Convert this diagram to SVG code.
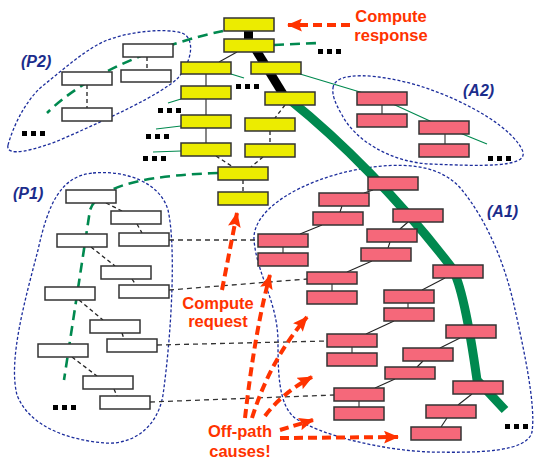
<svg xmlns="http://www.w3.org/2000/svg" width="535" height="461" viewBox="0 0 535 461">
<style>
.y{fill:#ecec00;stroke:#333;stroke-width:1.5}
.p{fill:#f5687a;stroke:#333;stroke-width:1.5}
.w{fill:#fff;stroke:#333;stroke-width:1.5}
.bd{fill:none;stroke:#1c2d9c;stroke-width:1.3;stroke-dasharray:3 2}
.s{stroke:#222;stroke-width:1.1;fill:none}
.d{stroke:#222;stroke-width:1.3;stroke-dasharray:4 3;fill:none}
.ld{stroke:#333;stroke-width:1.3;stroke-dasharray:5 4;fill:none}
.v{stroke:#666;stroke-width:1.5;fill:none}
.g{stroke:#00894f;stroke-width:1.2;fill:none}
.gd{stroke:#00894f;stroke-width:2.6;stroke-dasharray:10 6;fill:none}
.r{stroke:#ff3300;stroke-width:4;stroke-dasharray:9 5;fill:none;marker-end:url(#ah)}
.dot{fill:#000}
.lab{font-family:"Liberation Sans",Arial,sans-serif;font-weight:bold;font-style:italic;font-size:16px;fill:#1c2d8c}
.rt{font-family:"Liberation Sans",Arial,sans-serif;font-weight:bold;font-size:16.5px;fill:#ff3300;text-anchor:middle}
</style>
<defs>
<marker id="ah" viewBox="0 0 14 12" markerWidth="15" markerHeight="13" refX="13" refY="6" orient="auto" markerUnits="userSpaceOnUse">
<path d="M0,0 L14,6 L0,12 L2.5,6 Z" fill="#ff3300"/>
</marker>
<g id="dots3"><rect x="0" y="0" width="5" height="5"/><rect x="9" y="0" width="5" height="5"/><rect x="18" y="0" width="5" height="5"/></g>
</defs>

<g id="regions">
<path id="P2-region" class="bd" d="M 8 145 C 15 120, 30 95, 45 84 C 65 68, 85 50, 105 41 C 130 31, 165 28, 182 33 C 195 38, 193 60, 178 78 C 160 95, 110 118, 60 140 C 35 150, 5 158, 8 145 Z"/>
<path id="P1-region" class="bd" d="M 93 173 C 125 170, 160 182, 168 210 C 176 245, 172 330, 163 395 C 157 430, 130 445, 105 443 C 70 440, 30 428, 17 395 C 8 360, 25 300, 38 250 C 48 205, 60 176, 93 173 Z"/>
<path id="A2-region" class="bd" d="M 333 88 C 335 70, 380 74, 420 86 C 470 102, 515 130, 523 152 C 527 168, 480 166, 430 164 C 390 162, 355 140, 342 115 C 335 103, 332 95, 333 88 Z"/>
<path id="A1-region" class="bd" d="M 254 240 C 252 210, 300 180, 360 169 C 400 162, 440 163, 462 190 C 488 222, 505 265, 514 305 C 524 350, 536 405, 532 432 C 527 452, 480 453, 430 452 C 380 450, 320 435, 295 418 C 278 405, 278 370, 278 340 C 277 300, 257 275, 254 240 Z"/>
</g>

<g id="connectors">
<line class="s" x1="237" y1="52" x2="219" y2="62"/>
<line class="s" x1="206" y1="74" x2="206" y2="86"/>
<line class="s" x1="206" y1="99" x2="206" y2="115"/>
<line class="s" x1="206" y1="128" x2="206" y2="143"/>
<line class="d" x1="216" y1="156" x2="233" y2="167"/>
<line class="d" x1="285" y1="105" x2="275" y2="118"/>
<line class="d" x1="270" y1="131" x2="270" y2="144"/>
<line class="d" x1="263" y1="157" x2="251" y2="167"/>
<line class="d" x1="243" y1="180" x2="243" y2="192"/>
<line class="g" x1="231" y1="74" x2="244" y2="78"/>
<line class="g" x1="168" y1="103" x2="181" y2="99"/>
<line class="g" x1="156" y1="129" x2="181" y2="126"/>
<line class="g" x1="153" y1="152" x2="181" y2="151"/>
<polyline class="g" points="300,74 360,92 395,105 430,121 460,133 487,144"/>
<line class="gd" x1="274" y1="45" x2="318" y2="43"/>
<path class="gd" d="M 223 31 C 170 42, 90 70, 47 113"/>
<path class="gd" d="M 218 173 C 160 175, 100 182, 90 210 L 64 380"/>
<line class="d" x1="147" y1="57" x2="147" y2="70"/>
<line class="d" x1="87" y1="85" x2="87" y2="108"/>
<line class="d" x1="106" y1="203" x2="122" y2="211"/>
<line class="d" x1="137" y1="224" x2="142" y2="233"/>
<line class="d" x1="91" y1="247" x2="115" y2="266"/>
<line class="d" x1="132" y1="279" x2="136" y2="285"/>
<line class="d" x1="79" y1="300" x2="103" y2="320"/>
<line class="d" x1="122" y1="333" x2="124" y2="339"/>
<line class="d" x1="72" y1="357" x2="97" y2="376"/>
<line class="d" x1="114" y1="389" x2="117" y2="396"/>
<line class="ld" x1="169" y1="240" x2="258" y2="240"/>
<line class="ld" x1="169" y1="290" x2="307" y2="279"/>
<line class="ld" x1="157" y1="345" x2="327" y2="341"/>
<line class="ld" x1="150" y1="402" x2="334" y2="395"/>
<line class="v" x1="382" y1="105" x2="382" y2="114"/>
<line class="v" x1="445" y1="134" x2="445" y2="144"/>
<line class="s" x1="373" y1="190" x2="364" y2="193"/>
<line class="s" x1="342" y1="206" x2="340" y2="212"/>
<line class="s" x1="322" y1="225" x2="300" y2="234"/>
<line class="v" x1="283" y1="247" x2="283" y2="253"/>
<line class="s" x1="408" y1="222" x2="400" y2="229"/>
<line class="s" x1="390" y1="242" x2="388" y2="248"/>
<line class="s" x1="372" y1="261" x2="347" y2="272"/>
<line class="v" x1="332" y1="284" x2="332" y2="291"/>
<line class="s" x1="445" y1="278" x2="422" y2="290"/>
<line class="v" x1="408" y1="303" x2="408" y2="308"/>
<line class="s" x1="394" y1="321" x2="366" y2="334"/>
<line class="v" x1="352" y1="347" x2="352" y2="353"/>
<line class="s" x1="460" y1="338" x2="440" y2="348"/>
<line class="s" x1="423" y1="361" x2="417" y2="367"/>
<line class="s" x1="395" y1="379" x2="375" y2="388"/>
<line class="v" x1="359" y1="401" x2="359" y2="407"/>
<line class="s" x1="472" y1="394" x2="458" y2="405"/>
<line class="s" x1="447" y1="418" x2="441" y2="427"/>
<rect x="244" y="30" width="9" height="10" fill="#000"/>
<line x1="256" y1="50" x2="283" y2="94" stroke="#000" stroke-width="9"/>
<path d="M 290 100 C 340 140, 400 200, 452 268 C 462 285, 470 330, 477 380 L 505 410" stroke="#00894f" stroke-width="9" fill="none"/>
</g>

<g id="yellow-nodes">
<g id="Y1"><rect class="y" x="224" y="18" width="50" height="13"/></g>
<g id="Y2"><rect class="y" x="224" y="39" width="50" height="13"/></g>
<g id="Y3"><rect class="y" x="181" y="62" width="50" height="12"/></g>
<g id="Y4"><rect class="y" x="251" y="62" width="50" height="12"/></g>
<g id="Y5"><rect class="y" x="181" y="86" width="50" height="13"/></g>
<g id="Y6"><rect class="y" x="265" y="92" width="50" height="13"/></g>
<g id="Y7"><rect class="y" x="181" y="115" width="50" height="13"/></g>
<g id="Y8"><rect class="y" x="181" y="143" width="50" height="13"/></g>
<g id="Y9"><rect class="y" x="245" y="118" width="50" height="13"/></g>
<g id="Y10"><rect class="y" x="245" y="144" width="50" height="13"/></g>
<g id="Y11"><rect class="y" x="218" y="167" width="50" height="13"/></g>
<g id="Y12"><rect class="y" x="218" y="192" width="50" height="13"/></g>
</g>

<g id="P2-nodes">
<g id="W1"><rect class="w" x="123" y="44" width="50" height="13"/></g>
<g id="W2"><rect class="w" x="121" y="70" width="50" height="12"/></g>
<g id="W3"><rect class="w" x="62" y="72" width="50" height="13"/></g>
<g id="W4"><rect class="w" x="62" y="108" width="50" height="13"/></g>
</g>

<g id="P1-nodes">
<g id="B1"><rect class="w" x="66" y="190" width="50" height="13"/></g>
<g id="B2"><rect class="w" x="111" y="211" width="50" height="13"/></g>
<g id="B3"><rect class="w" x="57" y="234" width="50" height="13"/></g>
<g id="B4"><rect class="w" x="119" y="233" width="50" height="13"/></g>
<g id="B5"><rect class="w" x="101" y="266" width="50" height="13"/></g>
<g id="B6"><rect class="w" x="45" y="287" width="50" height="13"/></g>
<g id="B7"><rect class="w" x="119" y="285" width="50" height="13"/></g>
<g id="B8"><rect class="w" x="90" y="320" width="50" height="13"/></g>
<g id="B9"><rect class="w" x="107" y="339" width="50" height="13"/></g>
<g id="B10"><rect class="w" x="38" y="344" width="50" height="13"/></g>
<g id="B11"><rect class="w" x="83" y="376" width="50" height="13"/></g>
<g id="B12"><rect class="w" x="100" y="396" width="50" height="13"/></g>
</g>

<g id="A2-nodes">
<g id="C1"><rect class="p" x="357" y="92" width="50" height="13"/></g>
<g id="C2"><rect class="p" x="357" y="114" width="50" height="13"/></g>
<g id="C3"><rect class="p" x="419" y="121" width="50" height="13"/></g>
<g id="C4"><rect class="p" x="419" y="144" width="50" height="13"/></g>
</g>

<g id="A1-nodes">
<g id="A1n1"><rect class="p" x="368" y="177" width="50" height="13"/></g>
<g id="A1n2"><rect class="p" x="319" y="193" width="50" height="13"/></g>
<g id="A1n3"><rect class="p" x="313" y="212" width="50" height="13"/></g>
<g id="A1n4"><rect class="p" x="393" y="209" width="50" height="13"/></g>
<g id="A1n5"><rect class="p" x="367" y="229" width="50" height="13"/></g>
<g id="A1n6"><rect class="p" x="258" y="234" width="50" height="13"/></g>
<g id="A1n7"><rect class="p" x="258" y="253" width="50" height="13"/></g>
<g id="A1n8"><rect class="p" x="361" y="248" width="50" height="13"/></g>
<g id="A1n9"><rect class="p" x="307" y="272" width="50" height="12"/></g>
<g id="A1n10"><rect class="p" x="307" y="291" width="50" height="13"/></g>
<g id="A1n11"><rect class="p" x="433" y="265" width="50" height="13"/></g>
<g id="A1n12"><rect class="p" x="384" y="290" width="50" height="13"/></g>
<g id="A1n13"><rect class="p" x="384" y="308" width="50" height="13"/></g>
<g id="A1n14"><rect class="p" x="327" y="334" width="50" height="13"/></g>
<g id="A1n15"><rect class="p" x="327" y="353" width="50" height="13"/></g>
<g id="A1n16"><rect class="p" x="446" y="325" width="50" height="13"/></g>
<g id="A1n17"><rect class="p" x="403" y="348" width="50" height="13"/></g>
<g id="A1n18"><rect class="p" x="385" y="367" width="50" height="12"/></g>
<g id="A1n19"><rect class="p" x="334" y="388" width="50" height="13"/></g>
<g id="A1n20"><rect class="p" x="334" y="407" width="50" height="13"/></g>
<g id="A1n21"><rect class="p" x="453" y="381" width="50" height="13"/></g>
<g id="A1n22"><rect class="p" x="426" y="405" width="50" height="13"/></g>
<g id="A1n23"><rect class="p" x="411" y="427" width="50" height="13"/></g>
</g>

<g id="ellipses" class="dot">
<use href="#dots3" x="318" y="49"/>
<use href="#dots3" x="236" y="84"/>
<use href="#dots3" x="158" y="108"/>
<use href="#dots3" x="146" y="134"/>
<use href="#dots3" x="143" y="156"/>
<use href="#dots3" x="22" y="131"/>
<use href="#dots3" x="488" y="156"/>
<use href="#dots3" x="53" y="405"/>
<use href="#dots3" x="505" y="424"/>
</g>

<g id="labels">
<text class="lab" x="21" y="67">(P2)</text>
<text class="lab" x="463" y="96">(A2)</text>
<text class="lab" x="13" y="199">(P1)</text>
<text class="lab" x="487" y="217">(A1)</text>
<text class="rt" x="391" y="22">Compute</text>
<text class="rt" x="391" y="41">response</text>
<text class="rt" x="218" y="309">Compute</text>
<text class="rt" x="218" y="327">request</text>
<text class="rt" x="240" y="437">Off-path</text>
<text class="rt" x="240" y="457">causes!</text>
</g>

<g id="annotation-arrows">
<line class="r" x1="350" y1="25" x2="288" y2="25"/>
<line class="r" x1="222" y1="290" x2="237" y2="213"/>
<path class="r" d="M 245 418 Q 255 330 270 275"/>
<path class="r" d="M 252 418 Q 270 360 307 317"/>
<path class="r" d="M 265 416 Q 282 393 312 377"/>
<line class="r" x1="280" y1="430" x2="313" y2="420"/>
<line class="r" x1="280" y1="438" x2="398" y2="437"/>
</g>
</svg>
